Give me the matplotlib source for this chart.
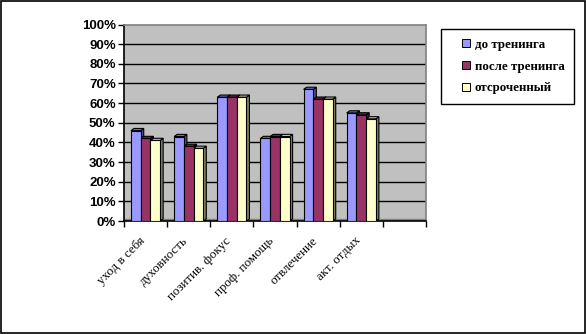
import matplotlib.pyplot as plt
from matplotlib.patches import Polygon, Rectangle
from matplotlib.lines import Line2D

categories = ['уход в себя', 'духовность', 'позитив. фокус', 'проф. помощь',
              'отвлечение', 'акт. отдых', '']
series_names = ['до тренинга', 'после тренинга', 'отсроченный']
before = [46, 43, 63, 42, 67, 55]
after = [42, 38, 63, 43, 62, 54]
delayed = [41, 37, 63, 43, 62, 52]
y_ticks = [0, 10, 20, 30, 40, 50, 60, 70, 80, 90, 100]

front_colors = ['#9999FF', '#993366', '#FFFFCC']
side_colors = ['#4D4D99', '#4D1A33', '#808066']
top_colors = ['#7070CC', '#73264D', '#CCCCA3']

fig = plt.figure(figsize=(5.86, 3.34), dpi=100)
ax = fig.add_axes([0.2116, 0.3383, 0.5154, 0.5883])
ax.set_facecolor('#C0C0C0')
ax.set_xlim(-0.5, 6.5)
ax.set_ylim(0, 100)

# gridlines on the back wall
for t in y_ticks[1:-1]:
    ax.axhline(t, color='black', lw=1.0, zorder=1)

# floor strip
ax.axhspan(0, 1.0, color='#808080', zorder=1)

width = 0.225
dx, dy = 0.07, 1.1
for k, vals in enumerate([before, after, delayed]):
    xs = [i + (k - 1) * width for i in range(len(vals))]
    ax.bar(xs, vals, width=width, color=front_colors[k], edgecolor='black',
           linewidth=0.8, zorder=3)
    for x, v in zip(xs, vals):
        l, r = x - width / 2, x + width / 2
        side = Polygon([(r, 0), (r + dx, dy), (r + dx, v + dy), (r, v)],
                       closed=True, facecolor=side_colors[k], edgecolor='black',
                       linewidth=0.8, zorder=2.5)
        top = Polygon([(l, v), (l + dx, v + dy), (r + dx, v + dy), (r, v)],
                      closed=True, facecolor=top_colors[k], edgecolor='black',
                      linewidth=0.8, zorder=2.5)
        ax.add_patch(side)
        ax.add_patch(top)

ax.set_yticks(y_ticks)
ax.set_yticklabels([f'{t}%' for t in y_ticks], fontfamily='Liberation Sans',
                   fontweight='bold', fontsize=9.5)
ax.set_xticks([i - 0.5 for i in range(len(categories) + 1)])
ax.set_xticklabels([])
ax.tick_params(axis='both', direction='out', length=4, width=1, color='black')
ax.tick_params(axis='y', pad=2)

for i, name in enumerate(categories):
    ax.text(i - 0.16, -7, name, rotation=45, ha='right', va='top',
            rotation_mode='anchor', fontfamily='Liberation Serif', fontsize=9.3,
            transform=ax.transData, clip_on=False)

for side in ['left', 'bottom']:
    ax.spines[side].set_color('black')
    ax.spines[side].set_linewidth(1.2)
for side in ['top', 'right']:
    ax.spines[side].set_color('#808080')
    ax.spines[side].set_linewidth(1.2)

handles = [Line2D([], [], marker='s', linestyle='none', markersize=5.5,
                  markerfacecolor=c, markeredgecolor='black', markeredgewidth=0.7)
           for c in front_colors]
fig.legend(handles, series_names, loc='upper left',
           bbox_to_anchor=(0.7526, 0.913), frameon=True, fancybox=False,
           edgecolor='black', framealpha=1, handlelength=2.3, handletextpad=-0.45,
           borderpad=0.75, labelspacing=0.75, borderaxespad=0,
           prop={'family': 'Liberation Serif', 'weight': 'bold', 'size': 9.3})

fig.add_artist(Rectangle((0.001, 0.002), 0.997, 0.995, transform=fig.transFigure,
                         fill=False, edgecolor='black', linewidth=1.2))

fig.savefig('out.png', dpi=100)
